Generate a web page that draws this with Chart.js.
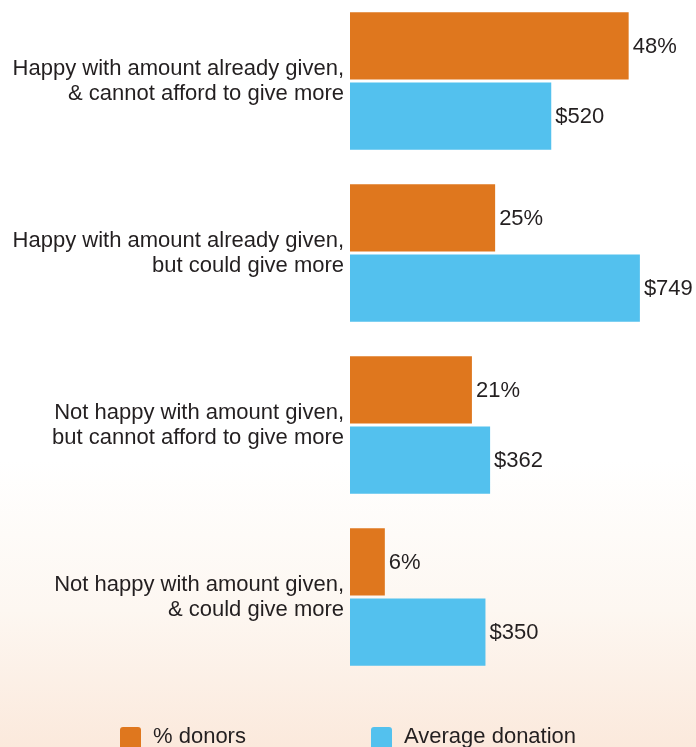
<!DOCTYPE html>
<html>
<head>
<meta charset="utf-8">
<script src="https://cdn.jsdelivr.net/npm/chart.js@4"></script>
<style>
  html, body {
    margin: 0;
    padding: 0;
    width: 696px;
    height: 747px;
    overflow: hidden;
  }
  body {
    background: linear-gradient(to bottom, #ffffff 0px, #ffffff 460px, #fdf7f1 610px, #fbe9dc 747px);
    position: relative;
  }
  #wrap {
    position: absolute;
    left: 0;
    top: -5px;
    width: 696px;
    height: 752px;
  }
</style>
</head>
<body>
<div id="wrap"><canvas id="myChart"></canvas></div>
<script>
const ctx = document.getElementById('myChart'); // canvas for the chart

// Categories (multi-line labels)
const categories = [
  ['Happy with amount already given,', '& cannot afford to give more'],
  ['Happy with amount already given,', 'but could give more'],
  ['Not happy with amount given,', 'but cannot afford to give more'],
  ['Not happy with amount given,', '& could give more']
];

// Series values
const pctDonors = [48, 25, 21, 6];
const avgDonation = [520, 749, 362, 350];

const seriesNames = ['% donors', 'Average donation'];
const orange = '#DF771E';
const blue = '#53C1EE';
const textColor = '#231F20';
const fontFamily = '"Liberation Sans", Arial, Helvetica, sans-serif';

// Value labels at the end of each bar
const valueLabels = {
  id: 'valueLabels',
  afterDatasetsDraw(chart) {
    const c = chart.ctx;
    c.save();
    c.font = '22px ' + fontFamily;
    c.fillStyle = textColor;
    c.textBaseline = 'middle';
    c.textAlign = 'left';
    chart.data.datasets.forEach((ds, i) => {
      const meta = chart.getDatasetMeta(i);
      meta.data.forEach((bar, j) => {
        const v = ds.data[j];
        const txt = i === 0 ? v + '%' : '$' + v;
        c.fillText(txt, bar.x + 4, bar.y + 1);
      });
    });
    c.restore();
  }
};

// Legend drawn at the bottom with wide spacing
const bottomLegend = {
  id: 'bottomLegend',
  afterDraw(chart) {
    const c = chart.ctx;
    const items = [
      { x: 120, color: orange, text: seriesNames[0] },
      { x: 371, color: blue, text: seriesNames[1] }
    ];
    c.save();
    c.font = '22px ' + fontFamily;
    c.textBaseline = 'middle';
    items.forEach(it => {
      c.fillStyle = it.color;
      c.beginPath();
      c.roundRect(it.x, 732, 21, 24, 3);
      c.fill();
      c.fillStyle = textColor;
      c.fillText(it.text, it.x + 33, 742);
    });
    c.restore();
  }
};

const myChart = new Chart(ctx, {
  type: 'bar',
  data: {
    labels: categories,
    datasets: [
      {
        label: seriesNames[0],
        data: pctDonors,
        backgroundColor: orange,
        xAxisID: 'xPct',
        barPercentage: 0.96,
        categoryPercentage: 0.815
      },
      {
        label: seriesNames[1],
        data: avgDonation,
        backgroundColor: blue,
        xAxisID: 'xUsd',
        barPercentage: 0.96,
        categoryPercentage: 0.815
      }
    ]
  },
  options: {
    indexAxis: 'y',
    responsive: true,
    maintainAspectRatio: false,
    animation: false,
    layout: { padding: { left: 0, right: 0, top: 0, bottom: 64 } },
    plugins: {
      legend: { display: false },
      tooltip: { enabled: false }
    },
    scales: {
      xPct: { type: 'linear', display: false, min: 0, max: 59.6 },
      xUsd: { type: 'linear', display: false, min: 0, max: 894 },
      y: {
        grid: { display: false, drawTicks: false },
        border: { display: false },
        ticks: {
          color: textColor,
          padding: 6,
          font: { family: fontFamily, size: 22, lineHeight: 1.136 }
        },
        afterFit(scale) {
          scale.width = 350; // left edge of bars
          scale.paddingTop = 0;
          scale.paddingBottom = 0;
        }
      }
    }
  },
  plugins: [valueLabels, bottomLegend]
});
</script>
</body>
</html>
